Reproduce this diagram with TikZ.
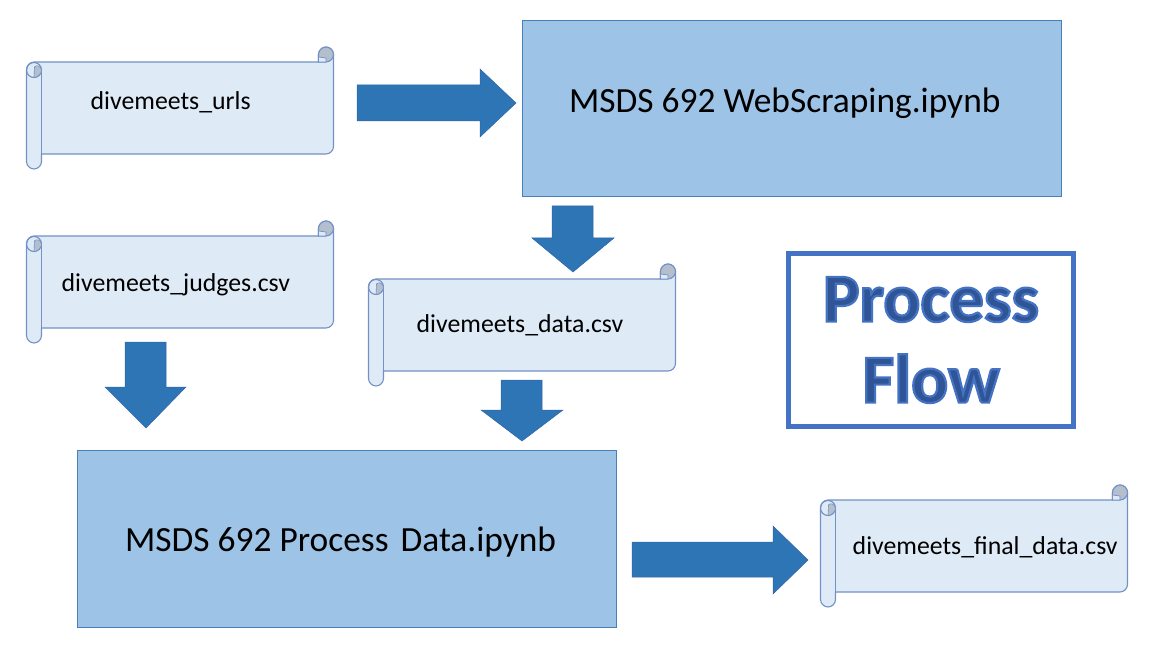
\documentclass[tikz,border=0pt]{standalone}
\usepackage{fontspec}
\setmainfont{Carlito}
\definecolor{scrollfill}{HTML}{DEEAF6}
\definecolor{scrollline}{HTML}{7391C4}
\definecolor{scrollgrey}{HTML}{B4BECD}
\definecolor{boxfill}{HTML}{9DC3E6}
\definecolor{boxline}{HTML}{4A7EBB}
\definecolor{arrowfill}{HTML}{2E75B6}
\definecolor{arrowline}{HTML}{2F65A8}
\definecolor{flowline}{HTML}{4472C4}
\definecolor{flowtext}{HTML}{2F5597}
\tikzset{
  scrollpart/.style={draw=scrollline, line width=1.1pt, line join=round},
  boxnode/.style={draw=boxline, line width=0.8pt, fill=boxfill, inner sep=0pt},
  blockarrow/.style={fill=arrowfill, draw=arrowline, line width=0.5pt},
  smalltext/.style={anchor=base west, inner sep=0pt, font=\fontsize{25.8}{30}\selectfont},
  bigtext/.style={anchor=base west, inner sep=0pt, font=\fontsize{35.4}{42}\selectfont},
}
% one scroll, x0 y0 is the top left corner of its outline
\newcommand{\scrollbox}[2]{
\begin{scope}[shift={(#1,#2)}]
\draw [scrollpart, fill=scrollfill] (0,23) .. controls (0,18.5) and (3.5,15) .. (7.5,15) -- (292,15) -- (292,7.5) .. controls (292,3.5) and (295.5,0) .. (299.5,0) .. controls (303.5,0) and (307,3.5) .. (307,7.5) -- (307,99.5) .. controls (307,103.5) and (303.5,107) .. (299.5,107) -- (15,107) -- (15,114.5) .. controls (15,118.5) and (11.5,122) .. (7.5,122) .. controls (3.5,122) and (0,118.5) .. (0,114.5) -- cycle;
\draw [scrollpart] (15,23) -- (15,107);
\draw [scrollpart] (7.5,23) circle [radius=7.5];
\draw [scrollpart, fill=scrollgrey, line width=0.6pt] (8,20) .. controls (9,18) and (14,18) .. (15,23) .. controls (15,27) and (11,30.5) .. (7.5,30.5) -- cycle;
\draw [scrollpart, fill=scrollgrey] (292,7.5) .. controls (292,3.5) and (295.5,0) .. (299.5,0) .. controls (303.5,0) and (307,3.5) .. (307,7.5) .. controls (307,11.5) and (303.5,15) .. (299.5,15) -- (292,15) -- cycle;
\draw [scrollpart, fill=scrollfill, line width=0.7pt] (292,15) -- (292,10) -- (299.5,11) -- (299.5,15) -- cycle;
\end{scope}
}
\begin{document}
\begin{tikzpicture}[x=1pt,y=-1pt]
\useasboundingbox (0,0) rectangle (1152,647);
\scrollbox{26.5}{47}
\scrollbox{26.5}{221}
\scrollbox{368.5}{264}
\scrollbox{820.5}{485}
\node [boxnode, anchor=north west, minimum width=539.5pt, minimum height=176pt] (webbox) at (521.5,20) {};
\node [boxnode, anchor=north west, minimum width=539.5pt, minimum height=177pt] (processbox) at (76.5,450) {};
\node [bigtext] (weblabel) at (569,113) {MSDS 692 WebScraping.ipynb};
\node [bigtext] (processlabel) at (125,551) {MSDS 692 Process\hspace{4pt} Data.ipynb};
\node [smalltext] (urlslabel) at (90.5,110) {divemeets\_urls};
\node [smalltext] (judgeslabel) at (61.5,291) {divemeets\_judges.csv};
\node [smalltext] (datalabel) at (416.5,332) {divemeets\_data.csv};
\node [smalltext] (finallabel) at (852.5,554) {divemeets\_final\_data.csv};
\draw [blockarrow] (357,85) -- (480,85) -- (480,69) -- (516,103) -- (480,137) -- (480,121) -- (357,121) -- cycle;
\draw [blockarrow] (552,206) -- (593,206) -- (593,238) -- (614,238) -- (573,272) -- (532,238) -- (552,238) -- cycle;
\draw [blockarrow] (125,342) -- (166,342) -- (166,387) -- (186,387) -- (146,428) -- (105,387) -- (125,387) -- cycle;
\draw [blockarrow] (501,380) -- (542,380) -- (542,410) -- (563,410) -- (522,441) -- (481,410) -- (501,410) -- cycle;
\draw [blockarrow] (632,542) -- (773,542) -- (773,526) -- (808,560) -- (773,594) -- (773,577) -- (632,577) -- cycle;
\node [draw=flowline, line width=5.5pt, inner sep=0pt, minimum width=285pt, minimum height=173pt, align=center, text=flowtext, font=\fontsize{69}{81}\selectfont\bfseries] (flowbox) at (931,340) {\special{pdf:code q 2 Tr 2.2 w 0.27 0.45 0.77 RG}Process\\Flow\special{pdf:code Q}};
\end{tikzpicture}
\end{document}
